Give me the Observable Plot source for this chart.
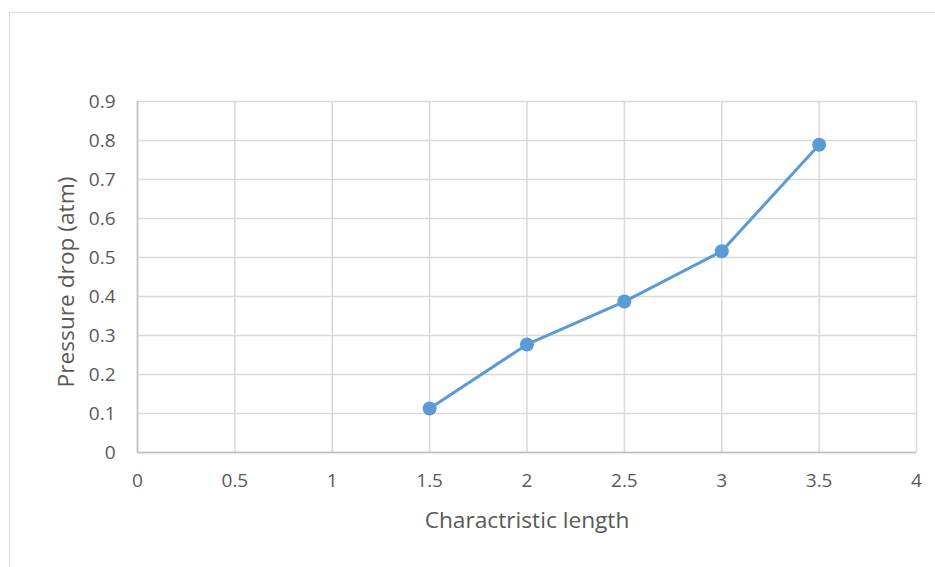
<!DOCTYPE html>
<html>
<head>
<meta charset="utf-8">
<script src="https://cdn.jsdelivr.net/npm/d3@7"></script>
<script src="https://cdn.jsdelivr.net/npm/@observablehq/plot@0.6"></script>
<style>
  html, body { margin: 0; padding: 0; background: #fff; }
  #wrap { position: relative; width: 935px; height: 567px; overflow: hidden; }
  #border { position: absolute; left: 9px; top: 12px; width: 940px; height: 570px; border: 1px solid #d9d9d9; box-sizing: border-box; }
  #chart { position: absolute; left: 0; top: 0; }
  #chart svg text { font-size: 19px !important; fill: #595959; }
  #chart svg g.title text { font-size: 22.7px !important; }
</style>
</head>
<body>
<div id="wrap"><div id="border"></div><div id="chart"></div></div>
<script>
const lengths = [1.5, 2, 2.5, 3, 3.5];
const pressureDrop = [0.113, 0.277, 0.387, 0.516, 0.789];
const xTicks = [0, 0.5, 1, 1.5, 2, 2.5, 3, 3.5, 4];
const yTicks = [0, 0.1, 0.2, 0.3, 0.4, 0.5, 0.6, 0.7, 0.8, 0.9];

const data = lengths.map((x, i) => ({x, y: pressureDrop[i]}));
const font = "'Open Sans', 'Segoe UI', sans-serif";

const chart = Plot.plot({
  width: 935,
  height: 567,
  marginLeft: 137,
  marginRight: 19,
  marginTop: 101,
  marginBottom: 115,
  style: {fontFamily: font, fontSize: "19px", color: "#595959", background: "transparent"},
  x: {domain: [0, 4], ticks: xTicks, tickFormat: d => String(d)},
  y: {domain: [0, 0.9], ticks: yTicks, tickFormat: d => String(d)},
  marks: [
    Plot.gridX(xTicks, {stroke: "#d9d9d9", strokeOpacity: 1, strokeWidth: 1.5}),
    Plot.gridY(yTicks, {stroke: "#d9d9d9", strokeOpacity: 1, strokeWidth: 1.5}),
    Plot.ruleY([0], {stroke: "#bfbfbf", strokeWidth: 1.5}),
    Plot.ruleX([0], {stroke: "#bfbfbf", strokeWidth: 1.5}),
    Plot.axisX({ticks: xTicks, tickSize: 0, tickPadding: 21, tickFormat: d => String(d), fontSize: 19, fill: "#595959", label: null}),
    Plot.axisY({ticks: yTicks, tickSize: 0, tickPadding: 22, tickFormat: d => String(d), fontSize: 19, fill: "#595959", label: null}),
    Plot.text(["Charactristic length"], {frameAnchor: "bottom", dy: 75, fontSize: 22.7, fill: "#595959", className: "title"}),
    Plot.text(["Pressure drop (atm)"], {frameAnchor: "left", textAnchor: "middle", dx: -71, dy: 5, rotate: -90, fontSize: 22.7, fill: "#595959", className: "title"}),
    Plot.line(data, {x: "x", y: "y", stroke: "#5b9bd5", strokeWidth: 3}),
    Plot.dot(data, {x: "x", y: "y", r: 7, fill: "#5b9bd5", stroke: "none"})
  ]
});
document.getElementById("chart").appendChild(chart);
</script>
</body>
</html>
